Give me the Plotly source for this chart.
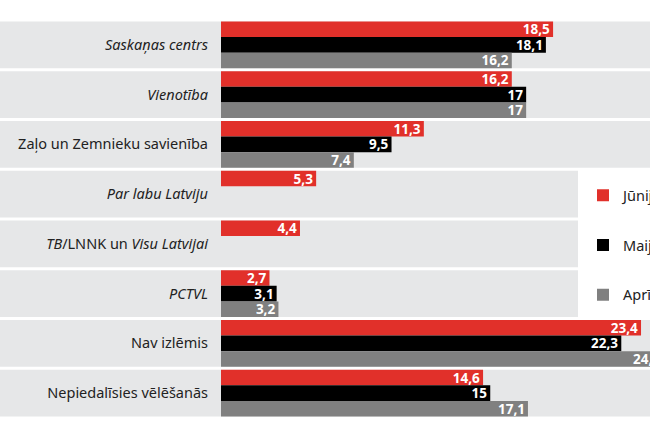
import plotly.graph_objects as go

categories = [
    "<i>Saskaņas centrs</i>",
    "<i>Vienotība</i>",
    "Zaļo un Zemnieku savienība",
    "<i>Par labu Latviju</i>",
    "<i>TB</i>/LNNK un <i>Visu Latvijai</i>",
    "<i>PCTVL</i>",
    "Nav izlēmis",
    "Nepiedalīsies vēlēšanās",
]
junijs = [18.5, 16.2, 11.3, 5.3, 4.4, 2.7, 23.4, 14.6]
maijs = [18.1, 17, 9.5, None, None, 3.1, 22.3, 15]
aprilis = [16.2, 17, 7.4, None, None, 3.2, 24.7, 17.1]
series_names = ["Jūnijs", "Maijs", "Aprīlis"]
colors = ["#e1302a", "#000000", "#808080"]

def fmt(v):
    return "" if v is None else f"{v:g}".replace(".", ",")

L, W, H = 221, 650, 440
pw = W - L
XMAX = pw / 17.95
label_font = dict(family="Noto Sans", size=13.5, color="white", weight="bold")

fig = go.Figure()
annotations = []
offsets = [-1, 0, 1]
for k, (name, vals, col) in enumerate(zip(series_names, [junijs, maijs, aprilis], colors)):
    fig.add_trace(go.Bar(
        y=categories, x=vals, orientation="h", name=name,
        marker=dict(color=col, line=dict(width=0)),
        text=[fmt(v) if (v is not None and v <= XMAX) else "" for v in vals],
        textposition="inside", textangle=0,
        insidetextanchor="end", constraintext="none",
        textfont=label_font, legendgroup=name,
    ))
    # values running past the right edge: label at the bar end (clipped by page)
    for i, v in enumerate(vals):
        if v is not None and v > XMAX:
            annotations.append(dict(
                x=v / XMAX, y=i + offsets[k] * 0.313, xref="paper", yref="y",
                text=fmt(v), showarrow=False, xanchor="right", xshift=-2,
                font=label_font))

shapes = []
short_rows = {3, 4, 5}
for i in range(len(categories)):
    x1 = (578 - L) / pw if i in short_rows else 1.0
    shapes.append(dict(type="rect", xref="paper", yref="y", layer="below",
                       x0=-L / pw, x1=x1, y0=i - 0.47, y1=i + 0.47,
                       fillcolor="#e6e7e8", line=dict(width=0)))

fig.update_layout(
    width=W, height=H,
    margin=dict(l=L, r=0, t=20, b=22, autoexpand=False),
    barmode="group", bargap=0.06, bargroupgap=0,
    plot_bgcolor="white", paper_bgcolor="white",
    shapes=shapes, annotations=annotations,
    xaxis=dict(range=[0, XMAX], visible=False, fixedrange=True),
    yaxis=dict(autorange="reversed", showgrid=False, zeroline=False,
               showline=False, ticks="", ticklabelstandoff=12,
               tickfont=dict(family="Noto Sans", size=14.5, color="#222")),
    legend=dict(x=(583 - L) / pw, xanchor="left", y=0.60, yanchor="top",
                traceorder="grouped", tracegroupgap=28,
                font=dict(family="Noto Sans", size=14.5, color="#222"),
                bgcolor="rgba(0,0,0,0)", itemwidth=30),
    showlegend=True,
    font=dict(family="Noto Sans"),
)
fig.write_html("out.html")
